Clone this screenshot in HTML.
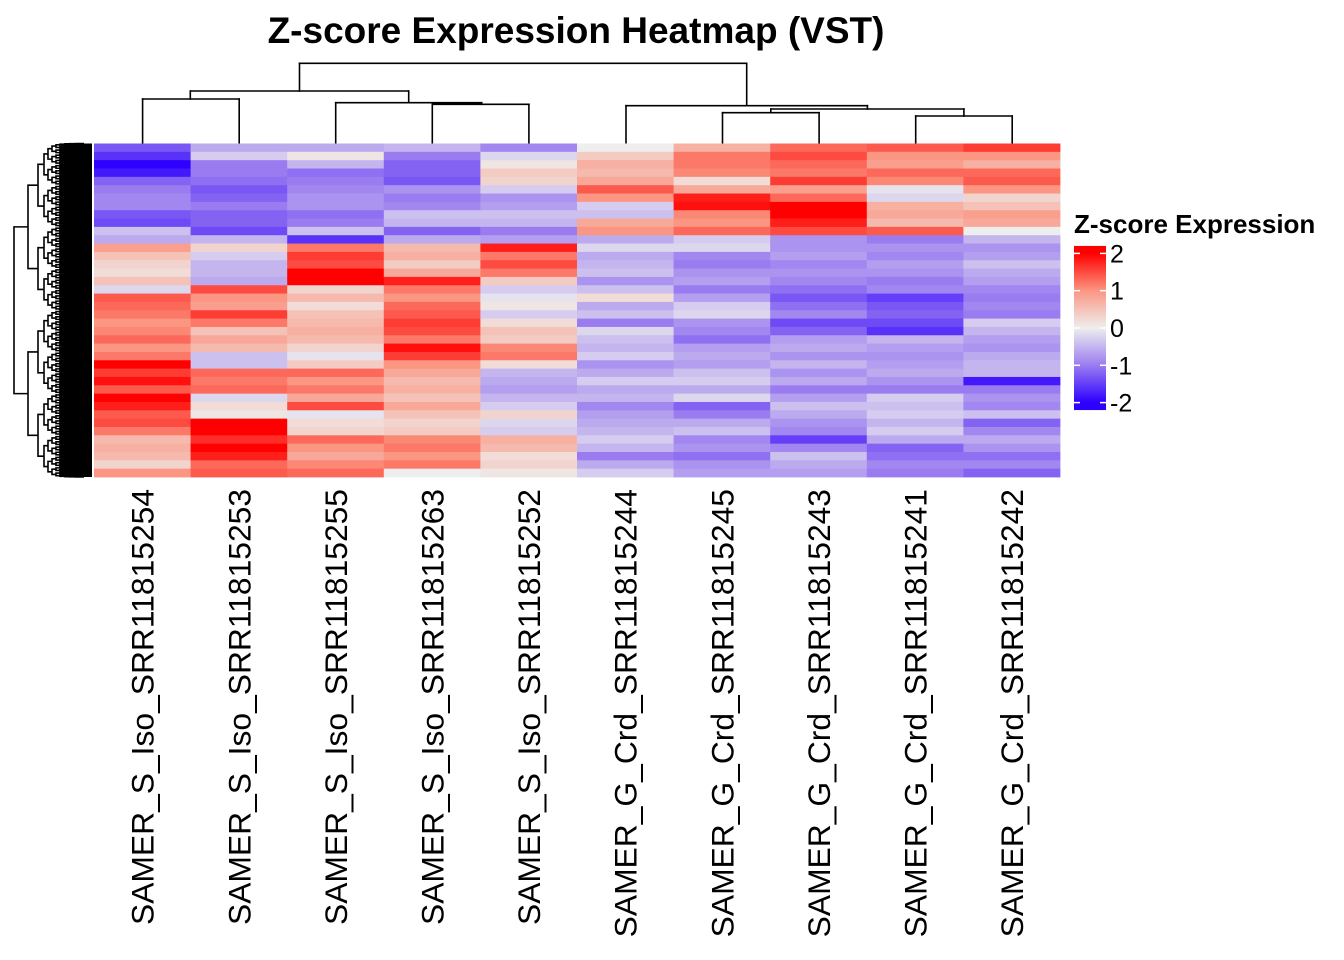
<!DOCTYPE html>
<html><head><meta charset="utf-8"><style>
html,body{margin:0;padding:0;background:#fff;}
svg{display:block;font-family:"Liberation Sans",Arial,sans-serif;}
</style></head><body>
<svg id="chart" width="1344" height="960" viewBox="0 0 1344 960">
<text x="576" y="43" text-anchor="middle" font-size="37" font-weight="bold" fill="#000">Z-score Expression Heatmap (VST)</text>
<g id="rowdend"></g>
<g id="coldend"></g>
<g id="cells"></g>
<g id="labels"></g>
<g id="legend">
<text x="1074" y="233" font-size="26" font-weight="bold">Z-score Expression</text>
</g>
</svg>
<script>
const samples = ["SAMER_S_Iso_SRR11815254","SAMER_S_Iso_SRR11815253","SAMER_S_Iso_SRR11815255","SAMER_S_Iso_SRR11815263","SAMER_S_Iso_SRR11815252","SAMER_G_Crd_SRR11815244","SAMER_G_Crd_SRR11815245","SAMER_G_Crd_SRR11815243","SAMER_G_Crd_SRR11815241","SAMER_G_Crd_SRR11815242"];
const col0 = [-1.3,-1.6,-2,-1.8,-1.2,-1.0,-0.9,-0.9,-1.3,-1.4,-0.4,-0.6,0.9,0.5,0.3,0.2,0.5,-0.2,1.4,1.3,1.2,1.0,1.1,1.3,1.0,1.2,2.0,1.6,1.9,1.4,2.1,1.8,1.4,1.5,1.2,0.6,0.7,0.6,0.3,1.0];
const col1 = [-0.6,-0.3,-1.0,-1.0,-1.1,-1.3,-1.2,-1.0,-1.2,-1.2,-1.4,-0.5,0.3,-0.3,-0.5,-0.5,-0.6,1.5,1.0,0.9,1.6,1.2,0.5,0.8,0.6,-0.4,-0.4,1.3,1.2,1.3,-0.2,0.2,0.1,2.0,2.2,1.7,2.1,1.8,1.3,1.4];
const col2 = [-0.6,0.1,-0.5,-1.1,-1.0,-0.9,-0.8,-0.8,-1.1,-1.0,-0.4,-1.6,1.2,1.6,1.5,2.3,2.2,0.3,0.6,0.2,0.5,0.6,0.7,0.6,0.3,-0.1,0.4,1.3,1.0,1.2,0.8,1.5,-0.1,0.2,0.3,1.3,1.0,0.8,1.1,1.3];
const col3 = [-0.5,-1.0,-1.2,-1.2,-1.3,-0.8,-1.0,-0.9,-0.4,-0.5,-1.2,-0.6,0.6,0.7,0.4,0.8,1.8,1.2,1.0,1.3,1.4,1.6,1.5,1.2,1.9,1.6,1.0,0.8,0.6,0.7,0.5,0.8,0.5,0.3,0.4,1.1,1.2,1.0,1.2,0];
const col4 = [-0.9,-0.2,0.1,0.4,0.3,-0.3,-0.8,-0.7,-0.4,-0.5,-1.0,-0.7,1.8,1.2,1.5,1.2,0.4,-0.3,-0.1,0.1,-0.3,0.2,0.5,0.4,1.1,1.2,0.2,-0.5,-0.6,-0.7,-0.5,-0.3,0.3,-0.2,-0.3,0.7,0.6,0.2,0.3,0.1];
const col5 = [0,0.4,0.7,0.6,0.8,1.4,1.0,-0.3,-0.4,0.8,1.0,-0.6,-0.2,-0.6,-0.5,-0.4,-0.8,-0.4,0.2,-0.6,-0.4,-1.0,-0.2,-0.4,-0.5,-0.3,-0.8,-0.6,-0.3,-0.6,-0.5,-0.9,-0.7,-0.6,-0.5,-0.3,-0.5,-1.0,-0.6,-0.3];
const col6 = [0.7,1.2,1.2,1.1,0.2,0.8,1.8,1.9,1.1,1.0,1.3,-0.3,-0.2,-0.9,-1.0,-0.8,-0.7,-1.0,-0.7,-0.3,-0.2,-0.8,-0.9,-1.1,-0.7,-0.6,-0.7,-0.4,-0.3,-0.6,-0.2,-1.2,-1.0,-0.6,-0.4,-0.9,-0.8,-1.1,-0.8,-0.7];
const col7 = [1.3,1.5,1.3,1.2,1.6,0.9,1.3,2.2,2.2,1.8,1.5,-0.8,-0.8,-0.7,-0.9,-0.8,-0.9,-1.1,-1.3,-1.1,-0.9,-1.4,-1.2,-0.7,-0.6,-0.8,-0.5,-0.8,-0.6,-1.0,-0.7,-0.4,-0.6,-0.8,-0.9,-1.5,-0.9,-0.4,-0.6,-0.7];
const col8 = [1.4,1.0,0.9,1.3,1.1,-0.1,-0.2,0.7,0.8,0.6,1.4,-1.0,-0.8,-0.9,-0.7,-0.8,-1.0,-0.9,-1.5,-1.3,-1.2,-1.4,-1.6,-0.5,-0.7,-0.8,-0.7,-0.6,-0.8,-1.0,-0.3,-0.4,-0.3,-0.5,-0.3,-0.6,-1.2,-1.1,-0.9,-1.0];
const col9 = [1.6,1.0,0.7,1.3,1.4,1.0,0.3,0.5,0.9,0.8,0.0,-0.5,-0.8,-0.7,-0.4,-0.6,-0.7,-0.9,-1.0,-0.9,-1.0,-0.3,-0.5,-0.7,-0.8,-0.6,-0.5,-0.5,-1.8,-1.0,-0.8,-0.9,-0.4,-1.2,-0.9,-0.6,-0.8,-1.1,-0.9,-1.2];
const columns = [col0,col1,col2,col3,col4,col5,col6,col7,col8,col9];
const legendTicks = [2,1,0,-1,-2];

const NS="http://www.w3.org/2000/svg";
function mk(tag,attrs,parent){const e=document.createElementNS(NS,tag);for(const k in attrs)e.setAttribute(k,attrs[k]);parent.appendChild(e);return e;}
const X0=94,X1=1060,Y0=143.5,Y1=477;
const cw=(X1-X0)/samples.length;
const xPos=i=>X0+i*cw;
const nRows=col0.length;
const rh=(Y1-Y0)/nRows;
const yPos=r=>Y0+r*rh;
const stops=[[-2,[45,0,255]],[-1,[154,124,240]],[0,[238,238,238]],[1,[251,150,130]],[2,[255,0,0]]];
function color(v){
  v=Math.max(-2,Math.min(2,v));
  for(let i=0;i<stops.length-1;i++){const a=stops[i],b=stops[i+1];
    if(v<=b[0]){const t=(v-a[0])/(b[0]-a[0]);const c=a[1].map((x,j)=>Math.round(x+(b[1][j]-x)*t));return `rgb(${c[0]},${c[1]},${c[2]})`;}}
  return "rgb(255,0,0)";
}
const cells=document.getElementById('cells');
columns.forEach((col,i)=>{
  col.forEach((v,r)=>{
    const el=mk('rect',{x:xPos(i),y:yPos(r),width:cw+0.4,height:rh+0.4,fill:color(v)},cells);
    
    
  });
});
const labelsG=document.getElementById('labels');
samples.forEach((s,i)=>{
  const cx=xPos(i)+cw/2;
  const t=mk('text',{x:cx,y:489,'font-size':31.8,'text-anchor':'end',transform:`rotate(-90 ${cx} 489)`,dy:'0.36em'},labelsG);
  t.textContent=s;
  
  
});
const cd=document.getElementById('coldend');
const segs=[[299.5,63.3,746.7,63.3],[299.5,63.3,299.5,91],[746.7,63.3,746.7,105.7],
[190.3,91,408.7,91],[190.3,91,190.3,99],[408.7,91,408.7,102.7],
[142.6,99,239.2,99],[142.6,99,142.6,143],[239.2,99,239.2,143],
[335.7,102.7,481.7,102.7],[335.7,102.7,335.7,143],[481.7,102.7,481.7,104.3],
[432.3,104.3,528.9,104.3],[432.3,104.3,432.3,143],[528.9,104.3,528.9,143],
[626,105.7,867.4,105.7],[626,105.7,626,143],[867.4,105.7,867.4,109],
[770.8,109,963.9,109],[770.8,109,770.8,112.7],[963.9,109,963.9,116],
[722.5,112.7,819.1,112.7],[722.5,112.7,722.5,143],[819.1,112.7,819.1,143],
[915.7,116,1012.2,116],[915.7,116,915.7,143],[1012.2,116,1012.2,143]];
segs.forEach(s=>{const l=mk('line',{x1:s[0],y1:s[1],x2:s[2],y2:s[3],stroke:'#000','stroke-width':1.6,'stroke-linecap':'square'},cd);
  
  });
const rd=document.getElementById('rowdend');
const depthX=[14,28,38,44,48,52,56,60,65,70,76,84];
function tree(y0,y1,d){
  if(d>=depthX.length-1){ return (y0+y1)/2; }
  const x=depthX[d];
  const ym=(y0+y1)/2;
  const a=tree(y0,ym,d+1), b=tree(ym,y1,d+1);
  const xc=depthX[d+1];
  mk('path',{d:`M${xc} ${a}H${x}V${b}H${xc}`,fill:'none',stroke:'#000','stroke-width':1.6},rd);
  return (a+b)/2;
}
tree(Y0,Y1,0);
mk('rect',{x:70,y:Y0,width:22,height:Y1-Y0,fill:'#000'},rd);
const lg=document.getElementById('legend');
const LY0=328, LS=37.3;
const defs=mk('defs',{},lg);
const lgd=mk('linearGradient',{id:'lgGrad',x1:0,y1:0,x2:0,y2:1},defs);
[2.2,2,1,0,-1,-2,-2.2].forEach(v=>{mk('stop',{offset:((2.2-v)/4.4).toFixed(4),'stop-color':color(v)},lgd);});
const bar=mk('rect',{x:1074,y:LY0-2.2*LS,width:32,height:4.4*LS,fill:'url(#lgGrad)'},lg);


legendTicks.forEach(v=>{
  const y=LY0-v*LS;
  mk('line',{x1:1074,y1:y,x2:1080,y2:y,stroke:'#fff','stroke-width':1.5},lg);
  mk('line',{x1:1100,y1:y,x2:1106,y2:y,stroke:'#fff','stroke-width':1.5},lg);
  const t=mk('text',{x:1110,y:y+9,'font-size':25},lg);
  t.textContent=String(v);
  
  
});
</script>
</body></html>
